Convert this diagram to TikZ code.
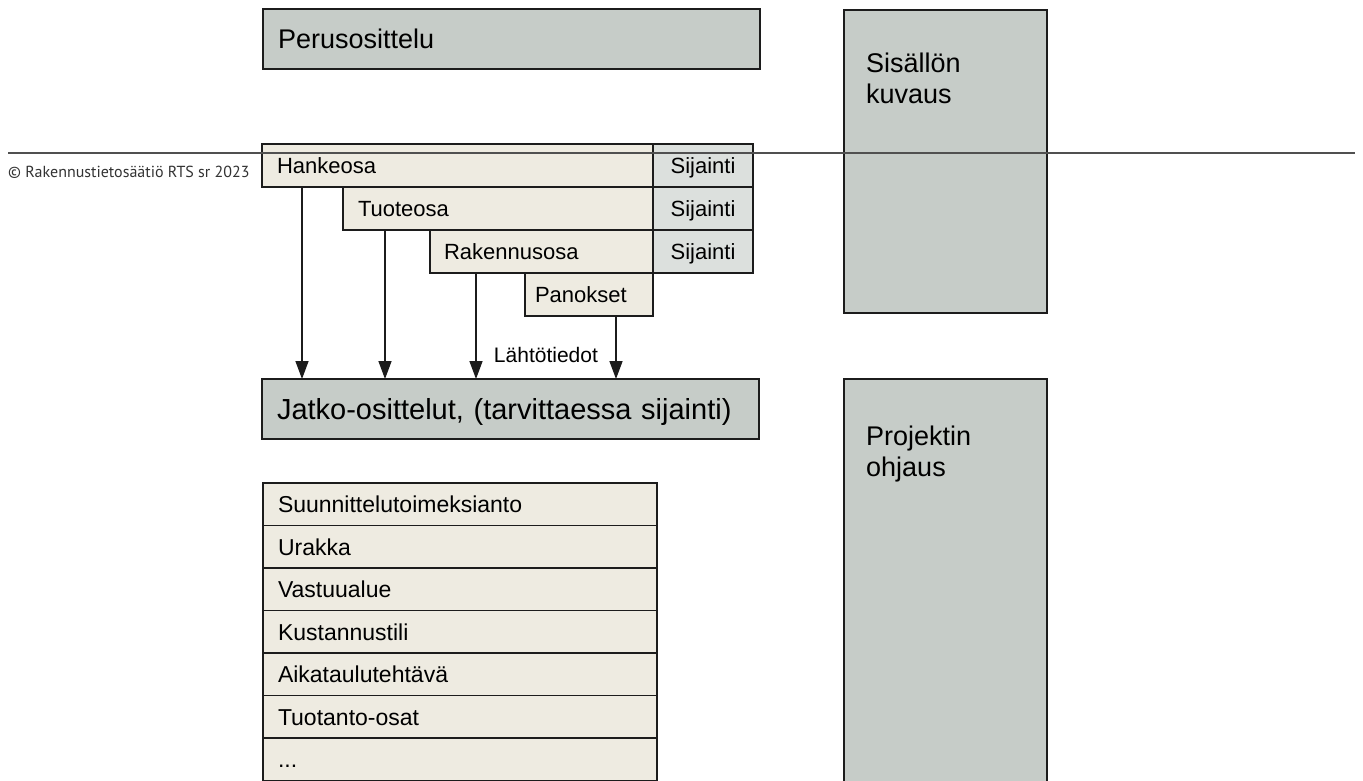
\documentclass[tikz,border=0pt]{standalone}
\usepackage{fontspec}
\setmainfont{Liberation Sans}
\newfontfamily\copyfont{PT Sans}
\usepackage{tikz}
\usetikzlibrary{positioning,arrows.meta}
\usepackage{xcolor}
\definecolor{boxgrey}{HTML}{C6CCC8}
\definecolor{sijgrey}{HTML}{DCE0DD}
\definecolor{partbeige}{HTML}{EEEBE1}
\definecolor{edgegrey}{HTML}{1C1C1C}
\definecolor{rulegrey}{HTML}{505050}
\tikzstyle{greybox} = [rectangle, draw=edgegrey, line width=1.5pt, fill=boxgrey, outer sep=0pt, inner ysep=0pt, inner xsep=15pt, align=left, anchor=north west]
\tikzstyle{part} = [rectangle, draw=edgegrey, line width=1.5pt, fill=partbeige, outer sep=0pt, inner ysep=0pt, inner xsep=15pt, align=left, minimum height=43pt, font=\fontsize{22}{26}\selectfont, text height=16pt, text depth=0pt]
\tikzstyle{sij} = [part, fill=sijgrey, inner xsep=0pt, minimum width=100pt, align=center, anchor=north west]
\tikzstyle{item} = [part, minimum height=42.5pt, text width=364pt, font=\fontsize{23}{27}\selectfont, text height=16.5pt]
\tikzstyle{boxtext} = [anchor=north west, inner sep=0pt, align=left, font=\fontsize{27}{31}\selectfont]
\tikzstyle{line} = [draw, line width=1.5pt, color=edgegrey, -{Triangle[length=18pt,width=13pt]}]

\begin{document}
\begin{tikzpicture}[x=1pt, y=1pt]
  \path[fill=white, use as bounding box] (0,0) rectangle (1363,-780);
  %% Perusosittelu
  \node[greybox, minimum height=60pt, text width=467pt, font=\fontsize{27}{31}\selectfont, text height=19pt, text depth=0pt] (perus) at (263,-9) {Perusosittelu};
  %% Sisallon kuvaus
  \node[greybox, minimum width=203pt, minimum height=303pt] (sisalto) at (844,-10) {};
  \node[boxtext] (sisalto-t) at ([shift={(22,-43)}]sisalto.north west) {Sisällön\\kuvaus};
  %% Hankeosa
  \node[part, anchor=north west, text width=361pt] (hanke) at (262,-144) {Hankeosa};
  %% Tuoteosa
  \node[part, anchor=north east, text width=280pt] (tuote) at (hanke.south east) {Tuoteosa};
  %% Rakennusosa
  \node[part, anchor=north east, text width=195pt, inner xsep=14pt] (rakennus) at (tuote.south east) {Rakennusosa};
  %% Panokset
  \node[part, anchor=north east, text width=108pt, inner xsep=10pt] (panos) at (rakennus.south east) {Panokset};
  %% Sijainti
  \node[sij] (sij1) at (hanke.north east) {Sijainti};
  \node[sij] (sij2) at (sij1.south west) {Sijainti};
  \node[sij] (sij3) at (sij2.south west) {Sijainti};
  %% Jatko-osittelut
  \node[greybox, minimum height=60pt, text width=467pt, font=\fontsize{29}{33}\selectfont, text height=21pt, text depth=0pt] (jatko) at (262,-379) {Jatko-osittelut, (tarvittaessa sijainti)};
  %% Projektin ohjaus
  \node[greybox, minimum width=203pt, minimum height=430pt] (ohjaus) at (844,-379) {};
  \node[boxtext] (ohjaus-t) at ([shift={(22,-47)}]ohjaus.north west) {Projektin\\ohjaus};
  %% list
  \node[item, anchor=north west] (suunn) at (263,-483) {Suunnittelutoimeksianto};
  \node[item, below of=suunn, node distance=42.5pt] (urakka) {Urakka};
  \node[item, below of=urakka, node distance=42.5pt] (vastuu) {Vastuualue};
  \node[item, below of=vastuu, node distance=42.5pt] (kust) {Kustannustili};
  \node[item, below of=kust, node distance=42.5pt] (aikat) {Aikataulutehtävä};
  \node[item, below of=aikat, node distance=42.5pt] (tuotanto) {Tuotanto-osat};
  \node[item, below of=tuotanto, node distance=42.5pt] (muut) {...};
  %% edges
  \coordinate (a1) at ([xshift=40pt]hanke.south west);
  \coordinate (a2) at ([xshift=42pt]tuote.south west);
  \coordinate (a3) at ([xshift=46pt]rakennus.south west);
  \coordinate (a4) at ([xshift=91pt]panos.south west);
  \path[line] (a1) -- (a1 |- jatko.north);
  \path[line] (a2) -- (a2 |- jatko.north);
  \path[line] (a3) -- (a3 |- jatko.north);
  \path[line] (a4) -- node[left=14pt, pos=0.62, color=black, font=\fontsize{21}{25}\selectfont]{Lähtötiedot} (a4 |- jatko.north);
  %% copyright
  \node[anchor=west, inner sep=0pt, color=black!80, font=\copyfont\fontsize{16}{19}\selectfont] (copy) at (8,-172) {© Rakennustietosäätiö RTS sr 2023};
  \coordinate (ruleL) at (8,-153);
  \coordinate (ruleR) at (1355,-153);
  \draw[rulegrey, line width=1.2pt] (ruleL) -- (ruleR);
\end{tikzpicture}
\end{document}
